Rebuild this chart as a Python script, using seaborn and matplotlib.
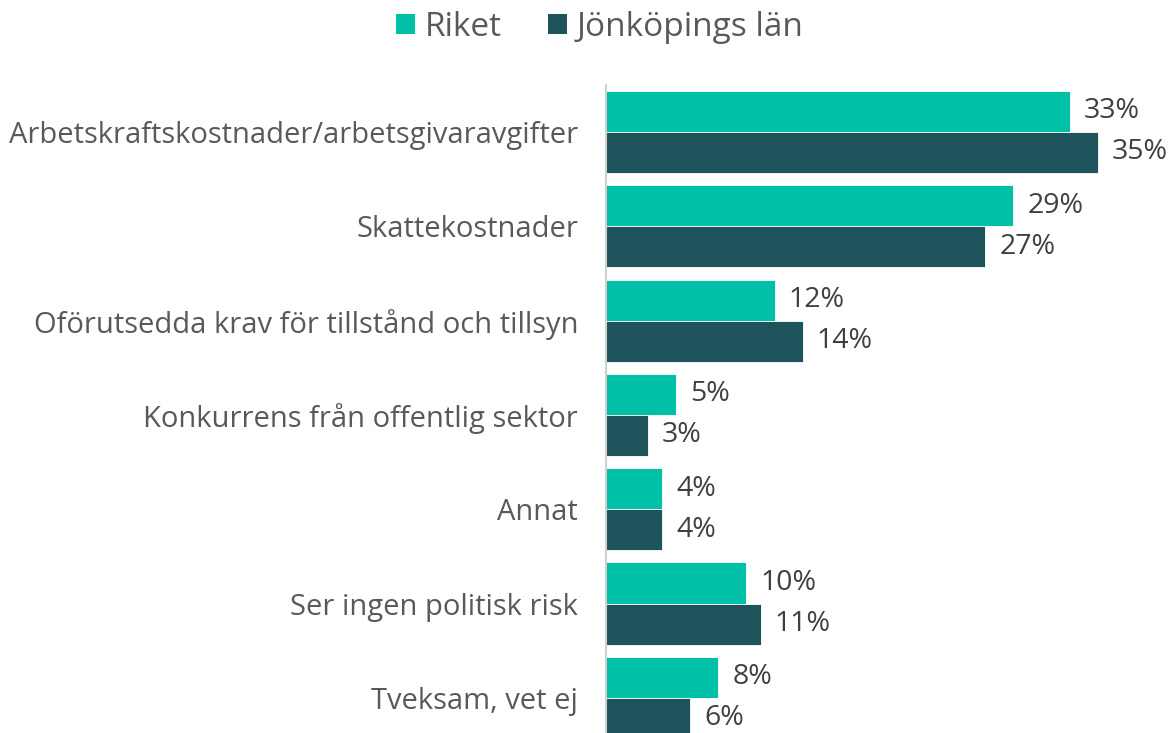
import matplotlib
matplotlib.use("Agg")
import matplotlib.pyplot as plt
import seaborn as sns
import pandas as pd
from matplotlib.patches import Patch

categories = [
    "Arbetskraftskostnader/arbetsgivaravgifter",
    "Skattekostnader",
    "Oförutsedda krav för tillstånd och tillsyn",
    "Konkurrens från offentlig sektor",
    "Annat",
    "Ser ingen politisk risk",
    "Tveksam, vet ej",
]
series_names = ["Riket", "Jönköpings län"]
riket = [33, 29, 12, 5, 4, 10, 8]
jonkoping = [35, 27, 14, 3, 4, 11, 6]
colors = ["#00C0A8", "#1F535B"]

df = pd.DataFrame({
    "Kategori": categories * 2,
    "Serie": [series_names[0]] * len(categories) + [series_names[1]] * len(categories),
    "Värde": riket + jonkoping,
})

sns.set_style("white")
plt.rcParams["font.family"] = ["Open Sans", "DejaVu Sans"]
text_color = "#595959"

fig = plt.figure(figsize=(11.75, 7.33), dpi=100)
ax = fig.add_axes([606 / 1175, 0, 1 - 606 / 1175, (733 - 85) / 733])

sns.barplot(data=df, y="Kategori", x="Värde", hue="Serie", orient="h",
            palette=colors, width=0.87, gap=0, dodge=True, ax=ax,
            legend=False, saturation=1, edgecolor="white", linewidth=0.6)

for cont in ax.containers:
    ax.bar_label(cont, labels=[f"{int(round(v))}%" for v in cont.datavalues],
                 padding=10, fontsize=20.5, color="#404040")

ax.set_xlim(0, 40.5)
ax.set_ylim(6.373, -0.498)
ax.set_xlabel("")
ax.set_ylabel("")
ax.set_xticks([])
ax.tick_params(axis="y", length=0, labelsize=21, labelcolor=text_color, pad=20)
for s in ["top", "right", "bottom"]:
    ax.spines[s].set_visible(False)
ax.spines["left"].set_color("#D0D0D0")
ax.spines["left"].set_linewidth(1.5)

handles = [Patch(facecolor=c, edgecolor="none") for c in colors]
fig.legend(handles, series_names, loc="center", bbox_to_anchor=(600 / 1175, 1 - 27 / 733),
           ncol=2, frameon=False, fontsize=24, labelcolor=text_color,
           handlelength=0.55, handleheight=0.55, handletextpad=0.3, columnspacing=1.4)

fig.savefig("out.png", dpi=100)
